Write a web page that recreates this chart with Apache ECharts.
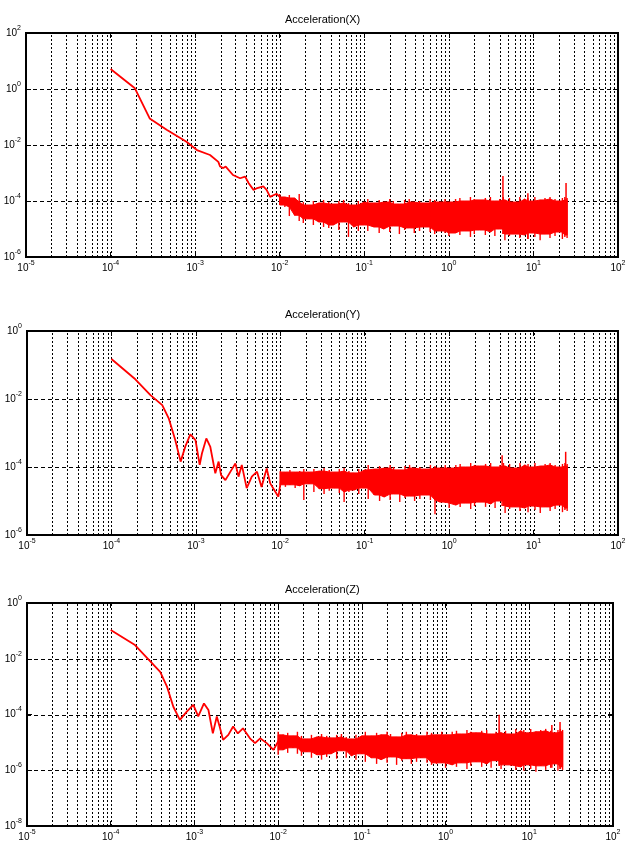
<!DOCTYPE html>
<html>
<head>
<meta charset="utf-8">
<script src="https://cdn.jsdelivr.net/npm/echarts@6/dist/echarts.min.js"></script>
<style>
  html, body { margin: 0; padding: 0; background: #fff; }
  #chart { width: 629px; height: 850px; }
</style>
</head>
<body>
<div id="chart"></div>
<script>
// spectra, frequency vs amplitude (log-log)
const titles = ["Acceleration(X)", "Acceleration(Y)", "Acceleration(Z)"];

// low frequency part, drawn as a plain line
const accXFreq = [1e-4, 1.94e-4, 2.9e-4, 4.6e-4, 7.9e-4, 1.05e-3, 1.5e-3, 1.88e-3, 1.97e-3, 2.15e-3,
  2.3e-3, 2.8e-3, 3.4e-3, 3.9e-3, 4.3e-3, 4.9e-3, 5.3e-3, 6.4e-3, 7e-3, 7.7e-3, 8.4e-3, 9.2e-3, 0.010];
const accXVal = [5.2, 1.06, 0.089, 0.035, 0.013, 6.6e-3, 4.4e-3, 2.5e-3, 1.7e-3, 1.5e-3,
  1.7e-3, 8.5e-4, 6.5e-4, 7.4e-4, 4.3e-4, 2.5e-4, 2.8e-4, 3.3e-4, 2.5e-4, 1.4e-4, 1.6e-4, 1.8e-4, 1.4e-4];

const accYFreq = [1e-4, 1.92e-4, 2.9e-4, 4.0e-4, 4.77e-4, 5.7e-4, 6.6e-4, 7.5e-4, 8.6e-4, 9.9e-4,
  1.11e-3, 1.18e-3, 1.33e-3, 1.48e-3, 1.70e-3, 1.86e-3, 1.99e-3, 2.24e-3, 2.57e-3, 2.94e-3,
  3.2e-3, 3.5e-3, 4.0e-3, 4.6e-3, 5.3e-3, 6.0e-3, 6.9e-3, 7.6e-3, 8.7e-3, 9.5e-3, 0.0105];
const accYVal = [0.15, 0.038, 0.013, 6.6e-3, 2.7e-3, 6.2e-4, 1.44e-4, 4.0e-4, 9.1e-4, 6.2e-4,
  1.15e-4, 2.5e-4, 6.9e-4, 4.0e-4, 6.5e-5, 1.44e-4, 5.8e-5, 4.1e-5, 7.3e-5, 1.28e-4,
  5.2e-5, 1.15e-4, 2.4e-5, 5.2e-5, 7.3e-5, 2.6e-5, 9.1e-5, 3.3e-5, 1.9e-5, 1.34e-5, 6.5e-5];

const accZFreq = [1e-4, 1.95e-4, 3.9e-4, 4.7e-4, 5.6e-4, 6.7e-4, 8.1e-4, 9.7e-4, 1.11e-3, 1.30e-3,
  1.47e-3, 1.66e-3, 1.85e-3, 2.0e-3, 2.2e-3, 2.54e-3, 2.9e-3, 3.3e-3, 3.8e-3, 4.6e-3,
  5.3e-3, 6.1e-3, 7.3e-3, 8.8e-3, 0.0105];
const accZVal = [0.108, 0.031, 3.4e-3, 1.0e-3, 1.9e-4, 6.4e-5, 1.27e-4, 2.2e-4, 8.5e-5, 2.5e-4,
  1.45e-4, 2.1e-5, 8.5e-5, 3.7e-5, 1.23e-5, 1.86e-5, 3.7e-5, 2.1e-5, 3.2e-5, 1.4e-5,
  9.4e-6, 1.4e-5, 9.4e-6, 5.4e-6, 1.4e-5];

// noisy part: upper / lower edge of the red band
const bandFreq = [0.010, 0.0115, 0.013, 0.015, 0.017, 0.019, 0.022, 0.025, 0.029, 0.033,
  0.038, 0.043, 0.05, 0.057, 0.065, 0.075, 0.085, 0.1, 0.11, 0.13,
  0.15, 0.17, 0.2, 0.22, 0.26, 0.3, 0.34, 0.39, 0.45, 0.52,
  0.6, 0.68, 0.78, 0.9, 1.0, 1.2, 1.35, 1.55, 1.8, 2.0,
  2.3, 2.7, 3.1, 3.5, 4.0, 4.4, 4.6, 5.2, 6.0, 6.9,
  7.9, 8.6, 9.0, 10.4, 12, 13.7, 15.7, 18, 20.6, 22,
  23.5, 24.3, 25];

const accXHi = [1.78e-4, 1.39e-4, 1.64e-4, 1.28e-4, 1.78e-4, 9.2e-5, 7.2e-5, 1.0e-4, 8.5e-5, 1.09e-4,
  9.2e-5, 7.8e-5, 1.0e-4, 1.09e-4, 8.5e-5, 7.2e-5, 1.0e-4, 9.2e-5, 1.18e-4, 8.5e-5,
  1.09e-4, 9.2e-5, 1.18e-4, 1.0e-4, 7.8e-5, 1.09e-4, 1.18e-4, 9.2e-5, 1.0e-4, 8.5e-5,
  1.18e-4, 1.09e-4, 9.2e-5, 1.18e-4, 9.2e-5, 1.18e-4, 1.28e-4, 1.0e-4, 1.39e-4, 1.18e-4,
  1.09e-4, 1.28e-4, 1.39e-4, 1.0e-4, 1.18e-4, 1.39e-4, 1.09e-4, 1.28e-4, 9.2e-5, 1.39e-4,
  1.18e-4, 1.28e-4, 1.0e-4, 1.39e-4, 1.09e-4, 1.28e-4, 1.39e-4, 1.18e-4, 1.0e-4, 1.28e-4,
  1.39e-4, 1.09e-4, 1.28e-4];
const accXLo = [7.2e-5, 6.1e-5, 2.9e-5, 3.1e-5, 1.93e-5, 1.64e-5, 2.3e-5, 1.39e-5, 1.78e-5, 1.18e-5,
  1.09e-5, 1.39e-5, 9.2e-6, 1.78e-5, 5.2e-6, 1.18e-5, 8.5e-6, 1.39e-5, 8.5e-6, 1.18e-5,
  7.2e-6, 1.0e-5, 7.8e-6, 1.28e-5, 6.6e-6, 9.2e-6, 1.09e-5, 7.2e-6, 8.5e-6, 1.18e-5,
  7.8e-6, 6.6e-6, 8.5e-6, 7.2e-6, 5.6e-6, 7.2e-6, 6.1e-6, 8.5e-6, 5.2e-6, 6.6e-6,
  9.2e-6, 6.1e-6, 7.8e-6, 5.6e-6, 1.0e-5, 6.6e-6, 4.0e-6, 5.6e-6, 6.6e-6, 4.8e-6,
  6.1e-6, 4.4e-6, 7.2e-6, 5.2e-6, 4.0e-6, 6.6e-6, 4.8e-6, 5.6e-6, 7.8e-6, 4.4e-6,
  5.2e-6, 6.1e-6, 4.8e-6];

const accYHi = [7.6e-5, 7.1e-5, 8.2e-5, 7.1e-5, 7.6e-5, 8.7e-5, 7.1e-5, 8.7e-5, 7.6e-5, 9.3e-5,
  8.2e-5, 7.1e-5, 8.7e-5, 9.3e-5, 7.6e-5, 6.7e-5, 8.7e-5, 8.2e-5, 1.15e-4, 8.7e-5,
  1.07e-4, 9.3e-5, 1.15e-4, 1.0e-4, 8.2e-5, 1.07e-4, 1.15e-4, 9.3e-5, 1.0e-4, 8.7e-5,
  1.15e-4, 1.07e-4, 9.3e-5, 1.15e-4, 9.3e-5, 1.15e-4, 1.23e-4, 1.0e-4, 1.31e-4, 1.15e-4,
  1.07e-4, 1.23e-4, 1.31e-4, 1.0e-4, 1.15e-4, 1.31e-4, 1.07e-4, 1.23e-4, 9.3e-5, 1.31e-4,
  1.15e-4, 1.23e-4, 1.0e-4, 1.31e-4, 1.07e-4, 1.23e-4, 1.31e-4, 1.15e-4, 1.0e-4, 1.23e-4,
  1.31e-4, 1.07e-4, 1.23e-4];
const accYLo = [3.0e-5, 2.6e-5, 3.0e-5, 2.4e-5, 2.8e-5, 1.07e-5, 3.2e-5, 1.84e-5, 2.3e-5, 1.61e-5,
  2.0e-5, 2.4e-5, 1.72e-5, 9.3e-6, 1.84e-5, 2.1e-5, 1.61e-5, 2.4e-5, 1.15e-5, 1.5e-5,
  1.0e-5, 1.31e-5, 1.07e-5, 1.61e-5, 9.3e-6, 1.23e-5, 1.4e-5, 1.0e-5, 1.15e-5, 1.5e-5,
  1.07e-5, 4.1e-6, 9.3e-6, 8.7e-6, 6.2e-6, 7.6e-6, 6.7e-6, 8.7e-6, 5.8e-6, 7.1e-6,
  9.3e-6, 6.7e-6, 8.2e-6, 6.2e-6, 1.0e-5, 7.1e-6, 4.4e-6, 5.8e-6, 6.7e-6, 5.1e-6,
  6.2e-6, 4.7e-6, 7.1e-6, 5.4e-6, 4.4e-6, 6.7e-6, 5.1e-6, 5.8e-6, 7.6e-6, 4.7e-6,
  5.4e-6, 6.2e-6, 5.1e-6];

const accZHi = [2.4e-5, 1.86e-5, 2.2e-5, 1.71e-5, 2.4e-5, 1.71e-5, 1.33e-5, 1.86e-5, 1.57e-5, 2.0e-5,
  1.71e-5, 1.45e-5, 1.86e-5, 2.0e-5, 1.57e-5, 1.33e-5, 1.86e-5, 1.71e-5, 2.4e-5, 1.71e-5,
  2.2e-5, 1.86e-5, 2.4e-5, 2.0e-5, 1.57e-5, 2.2e-5, 2.4e-5, 1.86e-5, 2.0e-5, 1.71e-5,
  2.4e-5, 2.2e-5, 1.86e-5, 2.4e-5, 1.86e-5, 2.4e-5, 2.6e-5, 2.0e-5, 2.8e-5, 2.4e-5,
  2.2e-5, 2.6e-5, 2.8e-5, 2.0e-5, 2.4e-5, 2.8e-5, 2.2e-5, 2.6e-5, 2.0e-5, 3.05e-5,
  2.6e-5, 2.8e-5, 2.2e-5, 3.05e-5, 2.4e-5, 2.8e-5, 3.05e-5, 2.6e-5, 2.2e-5, 2.8e-5,
  3.05e-5, 2.4e-5, 2.8e-5];
const accZLo = [3.6e-6, 5.4e-6, 4.2e-6, 6.4e-6, 3.9e-6, 3.3e-6, 4.6e-6, 2.8e-6, 3.6e-6, 2.4e-6,
  3.0e-6, 3.9e-6, 2.6e-6, 5.0e-6, 2.8e-6, 3.3e-6, 2.4e-6, 3.9e-6, 2.0e-6, 2.8e-6,
  1.69e-6, 2.4e-6, 1.84e-6, 3.0e-6, 1.56e-6, 2.2e-6, 2.6e-6, 1.69e-6, 2.0e-6, 2.8e-6,
  1.84e-6, 1.56e-6, 1.69e-6, 1.84e-6, 1.22e-6, 1.56e-6, 1.32e-6, 1.84e-6, 1.12e-6, 1.44e-6,
  2.0e-6, 1.32e-6, 1.69e-6, 1.22e-6, 2.2e-6, 1.44e-6, 1.12e-6, 1.56e-6, 1.44e-6, 1.03e-6,
  1.32e-6, 9.5e-7, 1.56e-6, 1.12e-6, 8.8e-7, 1.44e-6, 1.03e-6, 1.22e-6, 1.69e-6, 9.5e-7,
  1.12e-6, 1.32e-6, 1.03e-6];

// isolated peaks sticking out of the band
const spikeXFreq = [4.36, 8.6, 24.3];
const spikeXVal = [7.8e-4, 1.9e-4, 4.4e-4];
const spikeYFreq = [4.24, 24.0];
const spikeYVal = [2.2e-4, 2.8e-4];
const spikeZFreq = [4.36, 18.6, 23.3];
const spikeZVal = [9.7e-5, 4.2e-5, 5.4e-5];

// axes
const xRange = [1e-5, 1e2];
const yRanges = [[1e-6, 1e2], [1e-6, 1e0], [1e-8, 1e0]];
const yGridVals = [[1e0, 1e-2, 1e-4], [1e-2, 1e-4], [1e-2, 1e-4, 1e-6]];
const xDecades = [1e-5, 1e-4, 1e-3, 1e-2, 1e-1, 1e0, 1e1];
const xSteps = [1, 2, 3, 4, 5, 6, 7, 8, 9];

const RED = "#ff0000";
const FONT = "Liberation Sans, Arial, sans-serif";

const panels = [
  { lineF: accXFreq, lineV: accXVal, hi: accXHi, lo: accXLo, spF: spikeXFreq, spV: spikeXVal },
  { lineF: accYFreq, lineV: accYVal, hi: accYHi, lo: accYLo, spF: spikeYFreq, spV: spikeYVal },
  { lineF: accZFreq, lineV: accZVal, hi: accZHi, lo: accZLo, spF: spikeZFreq, spV: spikeZVal },
];
const gridBoxes = [
  { left: 26, top: 33, width: 592, height: 224 },
  { left: 27, top: 331, width: 591, height: 204 },
  { left: 27, top: 603, width: 586, height: 223 },
];
const titleTops = [14, 309, 584];

// vertical dotted lines at 1..9 x 10^k (borders excluded)
const xGridVals = [];
xDecades.forEach((d, k) => {
  xSteps.forEach((s) => {
    if (k === 0 && s === 1) return;
    xGridVals.push(s * d);
  });
});

const rich = {
  b: { fontSize: 10, fontFamily: FONT, color: "#000" },
  e: { fontSize: 7, fontFamily: FONT, color: "#000", padding: [0, 0, 10, 0] },
};
function powLabel(value) {
  const e = Math.round(Math.log10(value));
  return "{b|10}{e|" + e + "}";
}
function powLabelEven(value) {
  const e = Math.round(Math.log10(value));
  if (e % 2 !== 0) return "";
  return "{b|10}{e|" + e + "}";
}
const crisp = (v) => Math.round(v) + 0.5;

const xAxes = [];
const yAxes = [];
const series = [];

panels.forEach((p, gi) => {
  const tick = { show: true, inside: true, length: 5, lineStyle: { color: "#000", width: 1 } };
  const yMin = yRanges[gi][0], yMax = yRanges[gi][1];
  xAxes.push({
    type: "log", logBase: 10, gridIndex: gi, position: "bottom",
    min: xRange[0], max: xRange[1],
    axisLine: { show: false }, axisTick: tick,
    axisLabel: { formatter: powLabel, rich: rich, margin: 3, showMinLabel: true, showMaxLabel: true },
    splitLine: { show: false },
  });
  xAxes.push({
    type: "log", logBase: 10, gridIndex: gi, position: "top",
    min: xRange[0], max: xRange[1],
    axisLine: { show: false }, axisTick: tick,
    axisLabel: { show: false }, splitLine: { show: false },
  });
  yAxes.push({
    type: "log", logBase: 10, gridIndex: gi, position: "left",
    min: yMin, max: yMax, interval: 2,
    axisLine: { show: false }, axisTick: tick,
    axisLabel: { formatter: powLabelEven, rich: rich, margin: 5, showMinLabel: true, showMaxLabel: true },
    splitLine: { show: false },
  });
  yAxes.push({
    type: "log", logBase: 10, gridIndex: gi, position: "right",
    min: yMin, max: yMax, interval: 2,
    axisLine: { show: false }, axisTick: tick,
    axisLabel: { show: false }, splitLine: { show: false },
  });

  const xi = gi * 2;
  const yi = gi * 2;

  // dotted vertical grid lines
  series.push({
    type: "custom", xAxisIndex: xi, yAxisIndex: yi, z: 1, silent: true,
    data: xGridVals.map((v) => [v, yMin]),
    encode: { x: 0, y: 1 },
    renderItem: function (params, api) {
      const a = api.coord([api.value(0), yMin]);
      const b = api.coord([api.value(0), yMax]);
      return { type: "line", shape: { x1: crisp(a[0]), y1: a[1], x2: crisp(b[0]), y2: b[1] },
        style: { stroke: "#000", lineWidth: 1, lineDash: [2, 2] } };
    },
  });
  // dashed horizontal grid lines
  series.push({
    type: "custom", xAxisIndex: xi, yAxisIndex: yi, z: 1, silent: true,
    data: yGridVals[gi].map((v) => [xRange[0], v]),
    encode: { x: 0, y: 1 },
    renderItem: function (params, api) {
      const a = api.coord([xRange[0], api.value(1)]);
      const b = api.coord([xRange[1], api.value(1)]);
      return { type: "line", shape: { x1: a[0], y1: crisp(a[1]), x2: b[0], y2: crisp(b[1]) },
        style: { stroke: "#000", lineWidth: 1, lineDash: [4, 3] } };
    },
  });

  // noise band: solid core (innermost of neighbouring samples) + a hairline per sample
  const hi = p.hi, lo = p.lo;
  const n = bandFreq.length;
  const coreHi = (i) => Math.min(hi[Math.max(i - 1, 0)], hi[i], hi[Math.min(i + 1, n - 1)]);
  const coreLo = (i) => Math.max(lo[Math.max(i - 1, 0)], lo[i], lo[Math.min(i + 1, n - 1)]);
  series.push({
    type: "custom", xAxisIndex: xi, yAxisIndex: yi, z: 3, silent: true,
    data: bandFreq.map((f, i) => [f, hi[i], lo[i]]),
    encode: { x: 0, y: [1, 2] },
    renderItem: function (params, api) {
      const i = params.dataIndex;
      const t = api.coord([bandFreq[i], hi[i]]);
      const b = api.coord([bandFreq[i], lo[i]]);
      const children = [{
        type: "line", shape: { x1: t[0], y1: t[1], x2: b[0], y2: b[1] },
        style: { stroke: RED, lineWidth: 1.4 },
      }];
      if (i < n - 1) {
        children.push({
          type: "polygon",
          shape: { points: [
            api.coord([bandFreq[i], coreHi(i)]),
            api.coord([bandFreq[i + 1], coreHi(i + 1)]),
            api.coord([bandFreq[i + 1], coreLo(i + 1)]),
            api.coord([bandFreq[i], coreLo(i)]),
          ] },
          style: { fill: RED, stroke: RED, lineWidth: 1 },
        });
      }
      return { type: "group", children: children };
    },
  });

  // spikes: from the band bottom up to the peak
  const spikeData = p.spF.map((f, i) => {
    let best = 0;
    bandFreq.forEach((bf, j) => {
      if (Math.abs(Math.log(bf / f)) < Math.abs(Math.log(bandFreq[best] / f))) best = j;
    });
    return [f, p.spV[i], lo[best]];
  });
  series.push({
    type: "custom", xAxisIndex: xi, yAxisIndex: yi, z: 4, silent: true,
    data: spikeData,
    encode: { x: 0, y: [1, 2] },
    renderItem: function (params, api) {
      const a = api.coord([api.value(0), api.value(1)]);
      const b = api.coord([api.value(0), api.value(2)]);
      return { type: "line", shape: { x1: a[0], y1: a[1], x2: b[0], y2: b[1] }, style: { stroke: RED, lineWidth: 1.5 } };
    },
  });

  // low frequency curve
  series.push({
    type: "line", xAxisIndex: xi, yAxisIndex: yi, z: 5, silent: true,
    data: p.lineF.map((f, i) => [f, p.lineV[i]]),
    showSymbol: false, lineStyle: { color: RED, width: 1.8 },
  });
});

const chart = echarts.init(document.getElementById("chart"));
chart.setOption({
  animation: false,
  backgroundColor: "#fff",
  title: titles.map((t, i) => ({
    text: t, left: 285, top: titleTops[i], padding: 0,
    textStyle: { fontSize: 11, fontWeight: "normal", fontFamily: FONT, color: "#000" },
  })),
  grid: gridBoxes.map((g) => ({ ...g, show: true, borderColor: "#000", borderWidth: 2, containLabel: false })),
  xAxis: xAxes,
  yAxis: yAxes,
  series: series,
});
</script>
</body>
</html>
